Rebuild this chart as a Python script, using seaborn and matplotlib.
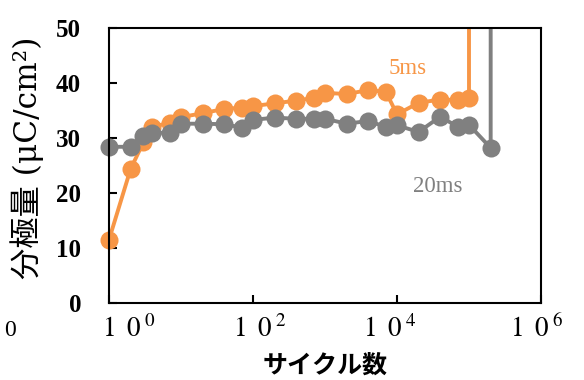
import matplotlib
matplotlib.use("Agg")
import matplotlib.pyplot as plt
import matplotlib.transforms as mtransforms
import seaborn as sns
import pandas as pd

# cycles and polarization (uC/cm2)
cycles_5ms = [1, 2, 3, 4, 7, 10, 20, 40, 70, 100, 200, 400, 700, 1000, 2000,
              4000, 7000, 10000, 20000, 40000, 70000, 100000, 100000]
pol_5ms = [11.5, 24.4, 29.2, 32.0, 32.8, 33.8, 34.5, 35.3, 35.5, 35.8, 36.3,
           36.8, 37.3, 38.2, 38.0, 38.7, 38.4, 34.3, 36.4, 37.0, 36.9, 37.3, 300]

cycles_20ms = [1, 2, 3, 4, 7, 10, 20, 40, 70, 100, 200, 400, 700, 1000, 2000,
               4000, 7000, 10000, 20000, 40000, 70000, 100000, 200000, 200000]
pol_20ms = [28.4, 28.4, 30.4, 30.9, 31.0, 32.6, 32.6, 32.5, 31.9, 33.3, 33.7,
            33.5, 33.5, 33.5, 32.6, 33.1, 32.0, 32.3, 31.1, 33.9, 32.0, 32.4,
            28.2, 300]

xticks = [1, 100, 10000, 1000000]
xtick_labels = [r"$\mathrm{1\;\;0^{\;0}}$", r"$\mathrm{1\;\;0^{\;2}}$",
                r"$\mathrm{1\;\;0^{\;4}}$", r"$\mathrm{1\;\;0^{\;6}}$"]
xlabel_shift = [20, 7, -7, -4]   # px, labels sit off their ticks in the original
yticks = [0, 10, 20, 30, 40, 50]

plt.rcParams['mathtext.fontset'] = 'stix'
plt.rcParams['font.family'] = ['Liberation Serif', 'Noto Sans CJK JP']

orange = '#F79646'
gray = '#808080'

df5 = pd.DataFrame({'x': cycles_5ms, 'y': pol_5ms})
df20 = pd.DataFrame({'x': cycles_20ms, 'y': pol_20ms})

fig = plt.figure(figsize=(5.84, 3.8), dpi=100)
ax = fig.add_axes([109 / 584, 1 - 303 / 380, 432 / 584, 275 / 380])

sns.lineplot(data=df5, x='x', y='y', ax=ax, color=orange, marker='o',
             markersize=13, markeredgewidth=0, linewidth=2.8,
             estimator=None, sort=False)
sns.lineplot(data=df20, x='x', y='y', ax=ax, color=gray, marker='o',
             markersize=13, markeredgewidth=0, linewidth=2.8,
             estimator=None, sort=False)

# let markers spill over the left/bottom edges, but clip at the top
clip = mtransforms.TransformedBbox(mtransforms.Bbox([[-0.05, -0.05], [1.05, 1.0]]),
                                   ax.transAxes)
for ln in ax.lines:
    ln.set_clip_box(clip)

ax.set_xscale('log')
ax.set_xlim(1, 1e6)
ax.set_ylim(0, 50)
ax.minorticks_off()
ax.set_xticks(xticks)
ax.set_xticklabels([])
for t, lbl, dx in zip(xticks, xtick_labels, xlabel_shift):
    ax.annotate(lbl, xy=(t, 0), xycoords=ax.get_xaxis_transform(),
                xytext=(dx, -34), textcoords='offset pixels',
                ha='center', va='baseline', fontsize=19.5, annotation_clip=False)
ax.set_yticks(yticks)
ax.set_yticklabels([str(v) for v in yticks], fontsize=18, fontweight='bold')
ax.tick_params(axis='both', direction='in', length=6, width=1.5, color='black')
ax.tick_params(axis='y', pad=20)
for sp in ax.spines.values():
    sp.set_linewidth(1.5)
    sp.set_color('black')

ax.set_xlabel('サイクル数', fontsize=18, fontweight='bold',
              family=['Noto Sans CJK JP'], va='center')
ax.xaxis.set_label_coords(0.5, (303 - 366) / 275)
ax.set_ylabel('分極量 (μC/cm²)', fontsize=22.5, va='center',
              family=['DejaVu Serif', 'Noto Sans CJK JP'])
ax.yaxis.set_label_coords((27 - 109) / 432, (303 - 158) / 275)

fig.text(408 / 584, 1 - 68 / 380, '5ms', color=orange, fontsize=16.5,
         ha='center', va='center')
fig.text(438 / 584, 1 - 187 / 380, '20ms', color=gray, fontsize=16.5,
         ha='center', va='center')

fig.text(10 / 584, 1 - 331 / 380, '0', fontsize=17, ha='center', va='center')

fig.savefig('out.png', dpi=100)
